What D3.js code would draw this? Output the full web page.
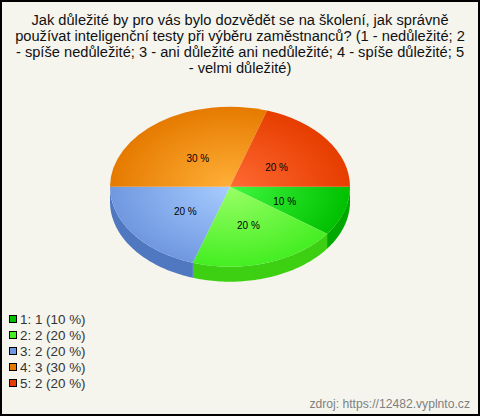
<!DOCTYPE html>
<html><head><meta charset="utf-8">
<script src="https://cdn.jsdelivr.net/npm/d3@7"></script>
<style>html,body{margin:0;padding:0;background:#fff}svg{display:block}text{font-family:"Liberation Sans",Arial,sans-serif}</style>
</head><body><svg id="c" width="480" height="416"></svg>
<script>
const titleLines = ["Jak důležité by pro vás bylo dozvědět se na školení, jak správně","používat inteligenční testy při výběru zaměstnanců? (1 - nedůležité; 2","- spíše nedůležité; 3 - ani důležité ani nedůležité; 4 - spíše důležité; 5","- velmi důležité)"];
const categories = ["1","2","3","4","5"];
const counts = [1,2,2,3,2];
const percents = [10,20,20,30,20];
const colorsEdge = ["#00c000","#44ee22","#6f98e0","#e67a00","#e63d00"];
const colorsCenter = ["#40f840","#99ff66","#a8ccff","#ffb038","#ff6a33"];
const colorsSide = ["#00a800","#3dd012","#4f78c0","#c86a00","#c83500"];
const legendColors = ["#00c000","#44ee22","#6f98e0","#e67a00","#e63d00"];
const source = "zdroj: https://12482.vyplnto.cz";

const W=480,H=416,cx=230,cy=186.7,rx=120,ry=80,depth=15;
const svg=d3.select("#c");
svg.append("rect").attr("x",1).attr("y",1).attr("width",W-2).attr("height",H-2).attr("fill","#f5f5ee").attr("stroke","#000").attr("stroke-width",2);
svg.append("g").selectAll("text").data(titleLines).join("text")
  .attr("x",240).attr("y",(d,i)=>25+i*16).attr("text-anchor","middle").attr("font-size",14.67).attr("fill","#111").text(d=>d);

const pie=d3.pie().sort(null).value(d=>d).startAngle(Math.PI/2).endAngle(Math.PI*2.5);
const arcs=pie(percents);
const defs=svg.append("defs");
colorsEdge.forEach((c,i)=>{
  const g=defs.append("radialGradient").attr("id","g"+i).attr("gradientUnits","userSpaceOnUse").attr("cx",0).attr("cy",0).attr("r",rx);
  g.append("stop").attr("offset",0).attr("stop-color",colorsCenter[i]);
  g.append("stop").attr("offset",1).attr("stop-color",c);
});
// side wall
const pt=a=>[cx+rx*Math.sin(a),cy-ry*Math.cos(a)];
const side=svg.append("g");
arcs.forEach((d,i)=>{
  const a0=Math.max(d.startAngle,Math.PI/2), a1=Math.min(d.endAngle,Math.PI*1.5);
  if(a1<=a0) return;
  const angles=d3.range(0,61).map(k=>a0+(a1-a0)*k/60);
  const pts=angles.map(pt);
  const area=d3.area().x(p=>p[0]).y0(p=>p[1]).y1(p=>p[1]+depth);
  side.append("path").attr("d",area(pts)).attr("fill",colorsSide[i]);
});
// upper face
const arc=d3.arc().innerRadius(0).outerRadius(rx);
const face=svg.append("g").attr("transform",`translate(${cx},${cy}) scale(1,${ry/rx})`);
face.selectAll("path").data(arcs).join("path").attr("d",arc).attr("fill",(d,i)=>`url(#g${i})`);
// labels
svg.append("g").selectAll("text").data(arcs).join("text")
  .attr("x",d=>{const a=(d.startAngle+d.endAngle)/2;return cx+1+rx*0.47*Math.sin(a);})
  .attr("y",d=>{const a=(d.startAngle+d.endAngle)/2;return cy+2.7-ry*0.47*Math.cos(a)+3.5;})
  .attr("text-anchor","middle").attr("font-size",10).attr("fill","#000").text(d=>d.data+" %");
// legend
const leg=svg.append("g").selectAll("g").data(categories).join("g").attr("transform",(d,i)=>`translate(0,${319+i*16})`);
leg.append("rect").attr("x",9.5).attr("y",-3.5).attr("width",7).attr("height",7).attr("fill",(d,i)=>legendColors[i]).attr("stroke","#000");
leg.append("text").attr("x",20).attr("y",5).attr("font-size",13.4).attr("fill","#333").text((d,i)=>`${d}: ${counts[i]} (${percents[i]} %)`);
svg.append("text").attr("x",470).attr("y",408).attr("text-anchor","end").attr("font-size",12.15).attr("fill","#808080").text(source);
</script></body></html>
